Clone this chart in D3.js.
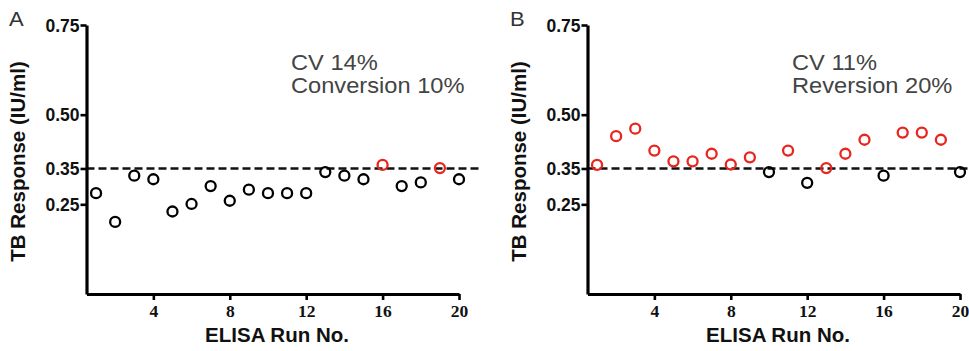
<!DOCTYPE html>
<html><head><meta charset="utf-8">
<script src="https://cdn.jsdelivr.net/npm/d3@7"></script>
<style>
body{margin:0;background:#fff;}
svg{display:block;}
</style></head>
<body>
<svg id="chart" width="969" height="351"></svg>
<script>
const runs = d3.range(1, 21);
const panelAValues = [0.281,0.201,0.330,0.320,0.230,0.251,0.301,0.260,0.291,0.281,0.281,0.281,0.340,0.330,0.320,0.360,0.301,0.311,0.351,0.320];
const panelBValues = [0.360,0.440,0.461,0.400,0.370,0.370,0.391,0.361,0.381,0.340,0.400,0.310,0.351,0.391,0.430,0.330,0.450,0.450,0.430,0.340];
const panelAFlag = [0,0,0,0,0,0,0,0,0,0,0,0,0,0,0,1,0,0,1,0];
const panelBFlag = [1,1,1,1,1,1,1,1,1,0,1,0,1,1,1,0,1,1,1,0];
const yTicks = [0.25, 0.35, 0.50, 0.75];
const xTicks = [4, 8, 12, 16, 20];
const cutoff = 0.35;
const panels = [
  {letter:"A", values:panelAValues, flags:panelAFlag, note:["CV 14%","Conversion 10%"], dx:0, dashEnd:480},
  {letter:"B", values:panelBValues, flags:panelBFlag, note:["CV 11%","Reversion 20%"], dx:501, dashEnd:969}
];
const SANS = "'Liberation Sans',Arial,Helvetica,sans-serif";
const SERIF = "'Liberation Serif','Times New Roman',serif";

const svg = d3.select("#chart");
const x = d3.scaleLinear().domain([0.5, 20]).range([86.5, 459]);
const y = d3.scaleLinear().domain([0, 0.75]).range([294, 25]);

panels.forEach(p => {
  const g = svg.append("g").attr("transform", `translate(${p.dx},0)`);
  g.append("text").attr("transform", "translate(9,26) scale(1.1,1)")
    .style("font-family", SANS).style("font-size", "20px").attr("fill", "#333").text(p.letter);

  // dashed cutoff
  g.append("line").attr("x1", x(0.5)).attr("x2", p.dashEnd - p.dx)
    .attr("y1", y(cutoff)).attr("y2", y(cutoff))
    .attr("stroke", "#111").attr("stroke-width", 2.4).attr("stroke-dasharray", "8,4");

  const yAxis = d3.axisLeft(y).tickValues(yTicks).tickFormat(d3.format(".2f")).tickSize(6).tickSizeOuter(0);
  const ya = g.append("g").attr("transform", `translate(${x(0.5)},0)`).call(yAxis);
  ya.select(".domain").attr("stroke", "#000").attr("stroke-width", 3.2);
  ya.selectAll(".tick line").attr("stroke", "#000").attr("stroke-width", 2.6);
  ya.selectAll(".tick text").style("font-family", SANS)
    .style("font-size", "17.5px").style("font-weight", "bold").attr("fill", "#111").attr("x", -7).attr("dy", "0.36em");

  const xAxis = d3.axisBottom(x).tickValues(xTicks).tickFormat(d3.format("d")).tickSize(6).tickSizeOuter(0);
  const xa = g.append("g").attr("transform", `translate(0,${y(0)})`).call(xAxis);
  xa.select(".domain").attr("stroke", "#000").attr("stroke-width", 3.2);
  xa.selectAll(".tick line").attr("stroke", "#000").attr("stroke-width", 2.6);
  xa.selectAll(".tick text").style("font-family", SERIF)
    .style("font-size", "17.5px").style("font-weight", "bold").attr("fill", "#111").attr("dy", "0.8em");

  g.append("text").attr("transform", `translate(25,${(y(0)+y(0.75))/2 + 2}) rotate(-90)`)
    .attr("text-anchor", "middle").style("font-family", SANS).style("font-size", "20.5px").style("font-weight", "bold").attr("fill", "#111")
    .text("TB Response (IU/ml)");
  g.append("text").attr("x", 277).attr("y", 342).attr("text-anchor", "middle")
    .style("font-family", SANS).style("font-size", "20.5px").style("font-weight", "bold").attr("fill", "#111").text("ELISA Run No.");

  g.selectAll("text.note").data(p.note).join("text").attr("class", "note")
    .attr("transform", (d, i) => `translate(291,${70 + i * 22.5}) scale(1.1,1)`)
    .style("font-family", SANS).style("font-size", "21.5px").attr("fill", "#444").text(d => d);

  g.selectAll("circle").data(runs).join("circle")
    .attr("cx", d => x(d)).attr("cy", (d, i) => y(p.values[i])).attr("r", 5)
    .attr("fill", "none").attr("stroke-width", 2.3)
    .attr("stroke", (d, i) => p.flags[i] ? "#e8261f" : "#000");
});
</script>
</body></html>
